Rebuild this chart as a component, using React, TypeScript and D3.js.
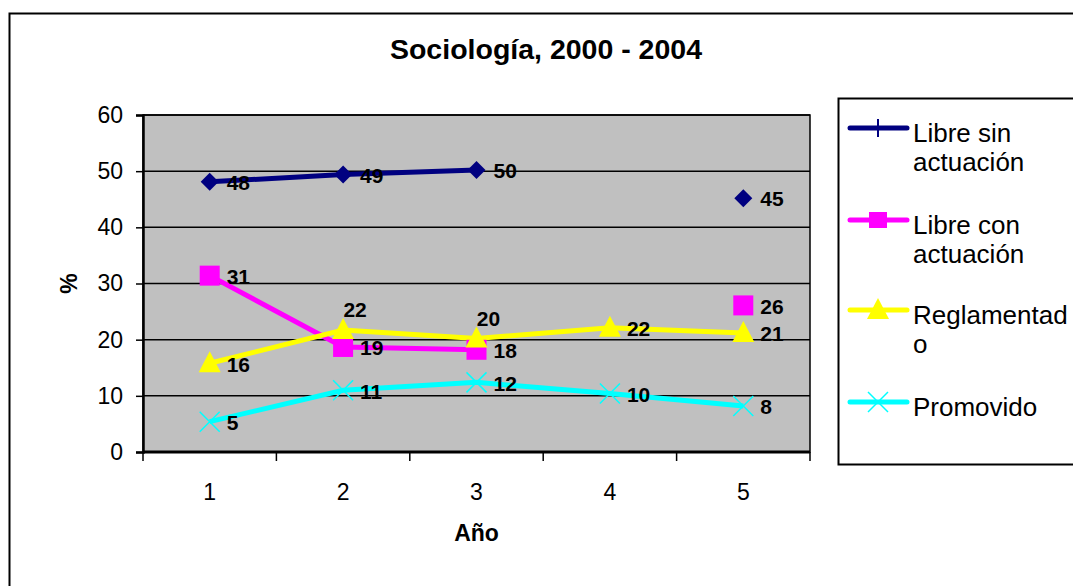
import React, { useEffect, useRef } from 'react';
import * as d3 from 'd3';

const years = ['1', '2', '3', '4', '5'];
const yTicks = [0, 10, 20, 30, 40, 50, 60];

const libreSin = [48.1, 49.4, 50.2, null, 45.2];
const libreCon = [31.4, 18.7, 18.2, null, 26.1];
const reglamentado = [15.8, 21.7, 20.2, 22.1, 21.2];
const promovido = [5.4, 11.0, 12.4, 10.4, 8.2];

const seriesNames = ['Libre sin actuación', 'Libre con actuación', 'Reglamentado', 'Promovido'];
const legendLines = [['Libre sin', 'actuación'], ['Libre con', 'actuación'], ['Reglamentad', 'o'], ['Promovido']];

const W = 1073;
const H = 586;
const FONT = '"Liberation Sans", Arial, sans-serif';

const App: React.FC = () => {
  const svgRef = useRef<SVGSVGElement>(null);

  useEffect(() => {
    if (!svgRef.current) return;
    const svg = d3.select(svgRef.current);
    svg.selectAll('*').remove();

    const plot = { left: 143, top: 115, right: 810, bottom: 452 };

    const x = d3.scaleBand().domain(years).range([plot.left, plot.right]);
    const y = d3.scaleLinear().domain([0, 60]).range([plot.bottom, plot.top]);
    const cx = (i: number) => (x(years[i]) || 0) + x.bandwidth() / 2;

    // outer chart border
    svg.append('rect')
      .attr('x', 9.5).attr('y', 13.5)
      .attr('width', 1200).attr('height', 700)
      .attr('fill', 'white').attr('stroke', 'black').attr('stroke-width', 2);

    svg.append('text')
      .attr('x', 546).attr('y', 59)
      .attr('text-anchor', 'middle')
      .attr('font-family', FONT).attr('font-size', 28.5).attr('font-weight', 'bold')
      .text('Sociología, 2000 - 2004');

    // plot area
    svg.append('rect')
      .attr('x', plot.left).attr('y', plot.top)
      .attr('width', plot.right - plot.left).attr('height', plot.bottom - plot.top)
      .attr('fill', '#c0c0c0').attr('stroke', 'black').attr('stroke-width', 1.5);

    svg.append('g').selectAll('line')
      .data(yTicks.slice(1))
      .join('line')
      .attr('x1', plot.left).attr('x2', plot.right)
      .attr('y1', d => y(d)).attr('y2', d => y(d))
      .attr('stroke', 'black').attr('stroke-width', 1.5);

    // y axis
    const yAxis = svg.append('g')
      .attr('transform', `translate(${plot.left},0)`)
      .call(d3.axisLeft(y).tickValues(yTicks).tickSize(7).tickPadding(13));
    yAxis.select('.domain').attr('stroke-width', 2.5);
    yAxis.selectAll('line').attr('stroke-width', 1.5);
    yAxis.selectAll('text').attr('font-family', FONT).attr('font-size', 23).attr('fill', 'black');

    // x axis
    const xAxis = svg.append('g')
      .attr('transform', `translate(0,${plot.bottom})`)
      .call(d3.axisBottom(x).tickSize(0).tickPadding(32));
    xAxis.select('.domain').attr('stroke-width', 3).attr('d', `M${plot.left},0H${plot.right}`);
    xAxis.selectAll('text').attr('font-family', FONT).attr('font-size', 23).attr('fill', 'black');
    const boundaries = years.map(d => x(d) || 0).concat([plot.right]);
    xAxis.selectAll('line.bound')
      .data(boundaries)
      .join('line')
      .attr('class', 'bound')
      .attr('x1', d => d).attr('x2', d => d)
      .attr('y1', 0).attr('y2', 9)
      .attr('stroke', 'black').attr('stroke-width', 1.5);

    svg.append('text')
      .attr('transform', `translate(77,${(plot.top + plot.bottom) / 2}) rotate(-90)`)
      .attr('text-anchor', 'middle')
      .attr('font-family', FONT).attr('font-size', 23).attr('font-weight', 'bold')
      .text('%');

    svg.append('text')
      .attr('x', (plot.left + plot.right) / 2).attr('y', 541)
      .attr('text-anchor', 'middle')
      .attr('font-family', FONT).attr('font-size', 23).attr('font-weight', 'bold')
      .text('Año');

    const colors = ['#000080', '#ff00ff', '#ffff00', '#00ffff'];
    const data = [libreSin, libreCon, reglamentado, promovido];

    const line = d3.line<number | null>()
      .defined(d => d !== null)
      .x((_, i) => cx(i))
      .y(d => y(d as number));

    const drawMarker = (g: any, k: number, px: number, py: number, legend = false) => {
      const c = colors[k];
      if (k === 0) {
        if (legend) {
          g.append('path')
            .attr('d', `M${px},${py - 9}V${py + 9}`)
            .attr('stroke', c).attr('stroke-width', 2);
        } else {
          g.append('path')
            .attr('d', `M${px},${py - 9}L${px + 9},${py}L${px},${py + 9}L${px - 9},${py}Z`)
            .attr('fill', c);
        }
      } else if (k === 1) {
        const s = legend ? 9 : 10;
        const sv = legend ? 8 : 10;
        g.append('rect')
          .attr('x', px - s).attr('y', py - sv)
          .attr('width', 2 * s).attr('height', 2 * sv)
          .attr('fill', c);
      } else if (k === 2) {
        g.append('path')
          .attr('d', `M${px},${py - 12}L${px + 11},${py + 9}L${px - 11},${py + 9}Z`)
          .attr('fill', c);
      } else {
        const s = 10;
        g.append('path')
          .attr('d', `M${px - s},${py - s}L${px + s},${py + s}M${px - s},${py + s}L${px + s},${py - s}`)
          .attr('stroke', c).attr('stroke-width', 1.5).attr('fill', 'none');
      }
    };

    const marks = svg.append('g');
    data.forEach((vals, k) => {
      marks.append('path')
        .datum(vals)
        .attr('d', line)
        .attr('fill', 'none')
        .attr('stroke', colors[k])
        .attr('stroke-width', 5);
    });
    data.forEach((vals, k) => {
      vals.forEach((v, i) => {
        if (v === null) return;
        drawMarker(marks, k, cx(i), y(v));
      });
    });

    // data labels
    const labels = svg.append('g')
      .attr('font-family', FONT).attr('font-size', 21).attr('font-weight', 'bold');
    data.forEach((vals, k) => {
      vals.forEach((v, i) => {
        if (v === null) return;
        const above = k === 2 && (i === 1 || i === 2);
        labels.append('text')
          .attr('x', above ? cx(i) + 12 : cx(i) + 17)
          .attr('y', above ? y(v) - 20 : y(v) + 1)
          .attr('text-anchor', above ? 'middle' : 'start')
          .attr('dy', '0.35em')
          .text(String(Math.round(v)));
      });
    });

    // legend
    const lg = svg.append('g');
    lg.append('rect')
      .attr('x', 838.5).attr('y', 98.5)
      .attr('width', 300).attr('height', 366)
      .attr('fill', 'white').attr('stroke', 'black').attr('stroke-width', 2);
    const legendY = [128, 220, 310, 402];
    seriesNames.forEach((name, k) => {
      const ly = legendY[k];
      lg.append('line')
        .attr('x1', 850).attr('x2', 907)
        .attr('y1', ly).attr('y2', ly)
        .attr('stroke', colors[k]).attr('stroke-width', 5)
        .attr('stroke-linecap', 'round');
      drawMarker(lg, k, 878, ly, true);
      const t = lg.append('text')
        .attr('x', 913).attr('y', ly + 14)
        .attr('font-family', FONT).attr('font-size', 26)
        .attr('aria-label', name);
      legendLines[k].forEach((s, j) => {
        t.append('tspan').attr('x', 913).attr('dy', j === 0 ? 0 : 29).text(s);
      });
    });
  }, []);

  return (
    <svg
      ref={svgRef}
      width={W}
      height={H}
      style={{ position: 'absolute', left: 0, top: 0, background: 'white' }}
    />
  );
};

export default App;
